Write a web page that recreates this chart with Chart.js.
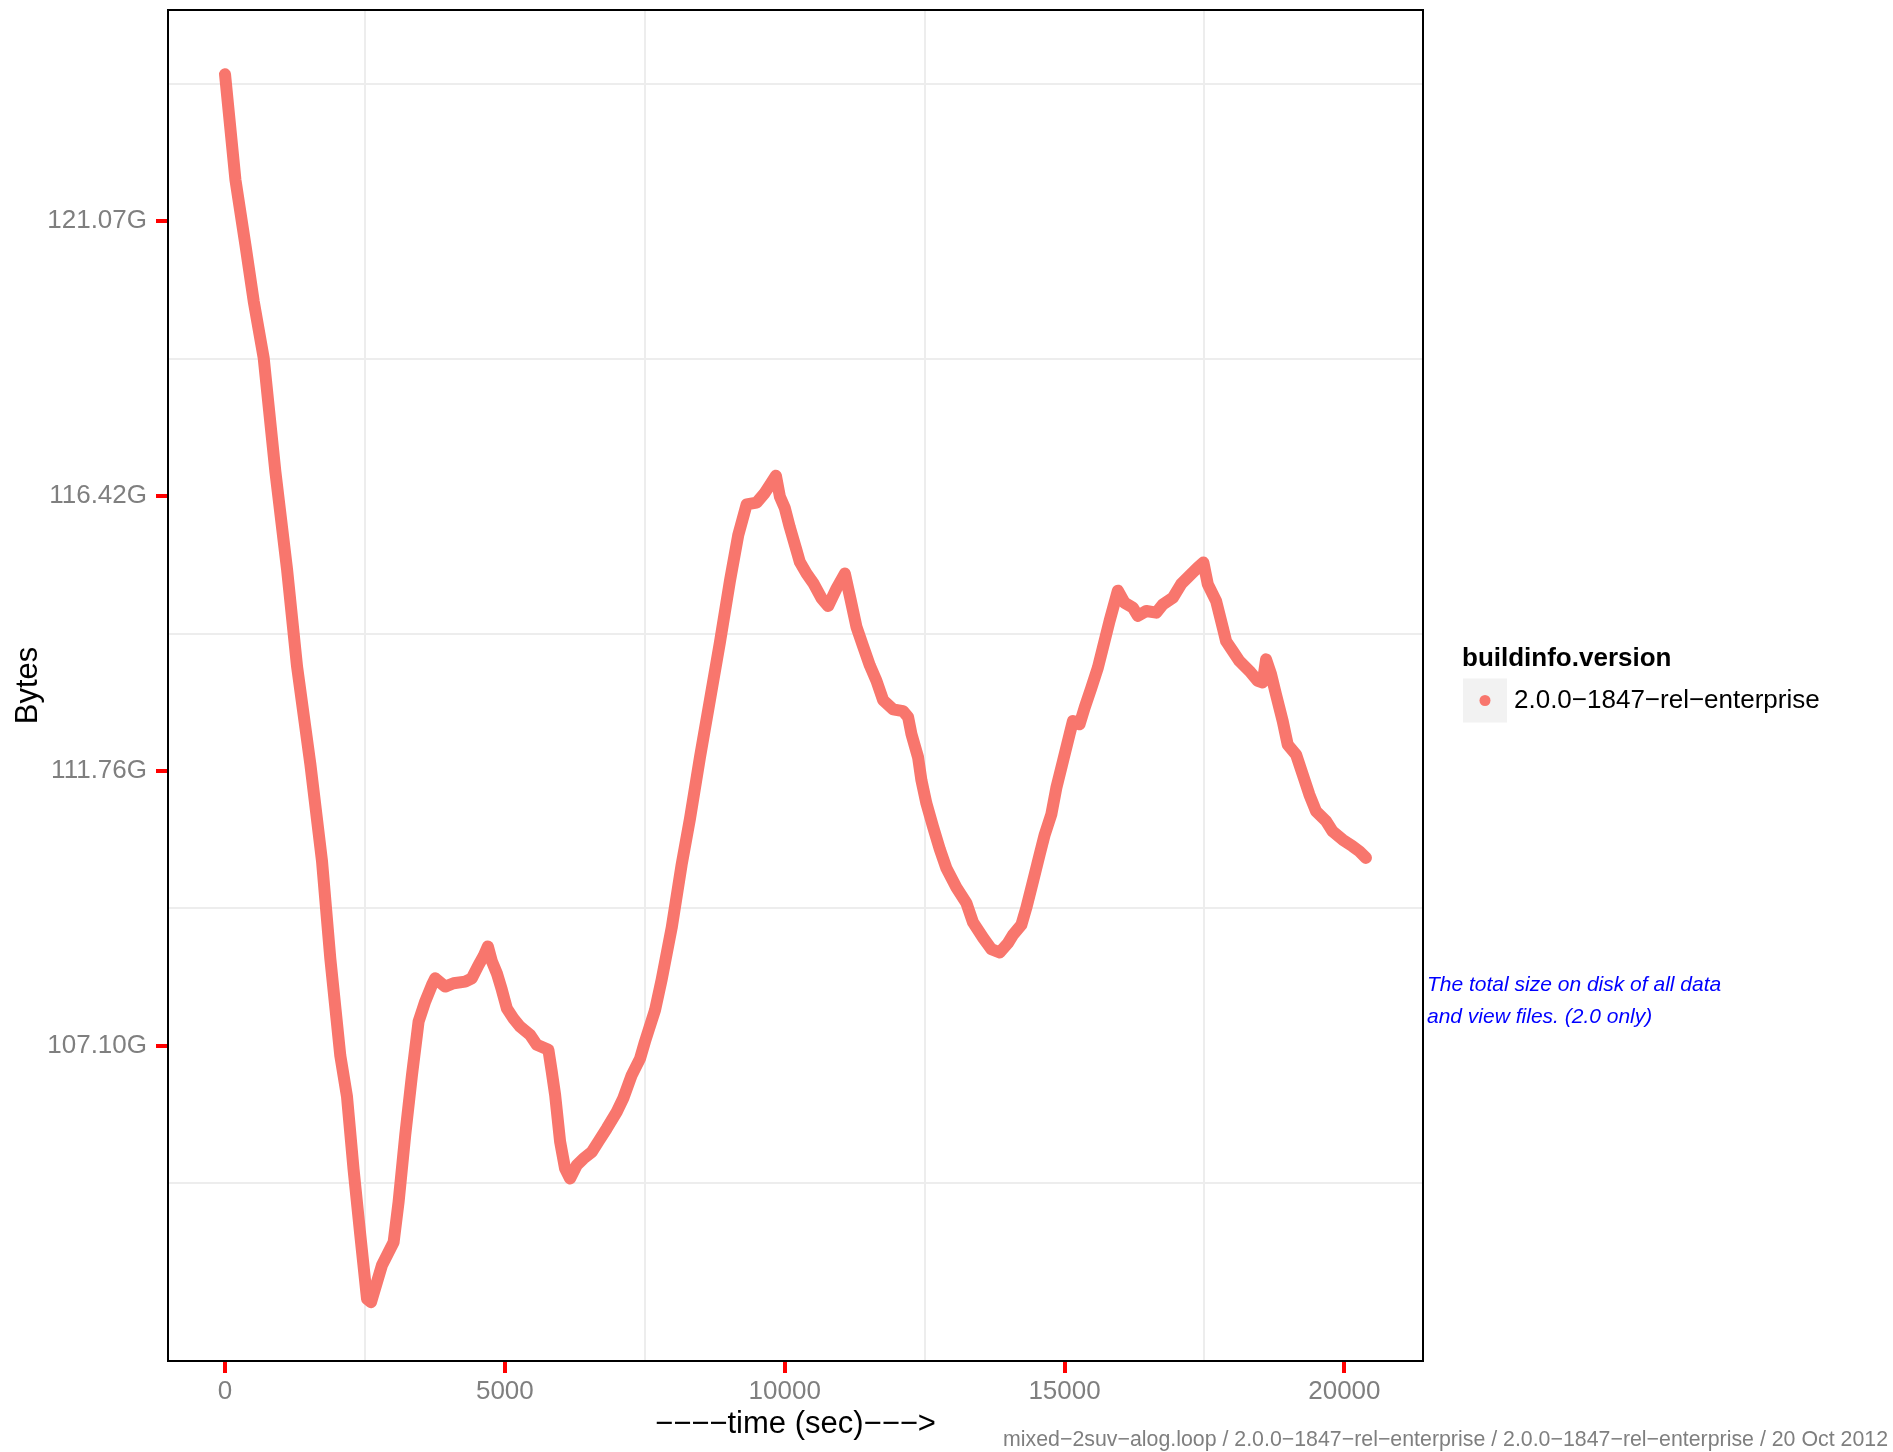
<!DOCTYPE html>
<html>
<head>
<meta charset="utf-8">
<script src="https://cdn.jsdelivr.net/npm/chart.js@4.4.1/dist/chart.umd.min.js"></script>
<style>
  html, body { margin: 0; padding: 0; background: #ffffff; }
  canvas { display: block; }
</style>
</head>
<body>
<canvas id="chart" width="1893" height="1452"></canvas>
<script>
// Elapsed time of each sample (seconds)
const timeSec = [0,186,364,513,691,900,1108,1287,1524,1733,
  1881,2060,2179,2297,2417,2537,2608,2804,3012,3101,
  3220,3340,3458,3577,3697,3756,3934,4083,4291,4410,
  4529,4618,4696,4768,4857,4946,5036,5153,5273,5451,
  5571,5778,5838,5898,5987,6076,6165,6284,6403,6553,
  6671,6821,6999,7117,7267,7415,7504,7683,7802,7981,
  8159,8307,8486,8664,8843,9022,9170,9320,9498,9646,
  9736,9843,9914,10003,10092,10212,10271,10390,10509,10659,
  10776,10927,11075,11164,11283,11401,11521,11640,11758,11937,
  12115,12205,12265,12383,12443,12532,12650,12770,12889,13068,
  13246,13364,13543,13693,13841,13989,14079,14228,14317,14436,
  14555,14645,14764,14853,14972,15091,15150,15269,15359,15478,
  15596,15685,15805,15953,16072,16221,16310,16460,16638,16756,
  16935,17084,17232,17381,17482,17559,17709,17827,17887,18006,
  18125,18303,18452,18541,18601,18690,18779,18898,18987,19137,
  19255,19375,19494,19672,19791,19969,20148,20267,20386];

// Total size on disk of data + view files, in units of 1e9 bytes
const diskGB = [132.67,130.75,129.57,128.54,127.51,125.44,123.67,121.90,120.13,118.36,
  116.59,114.82,114.08,112.75,111.56,110.40,110.34,111.01,111.43,112.16,
  113.38,114.47,115.44,115.81,116.11,116.23,116.08,116.14,116.17,116.23,
  116.47,116.63,116.81,116.54,116.32,116.02,115.68,115.50,115.35,115.20,
  115.02,114.93,114.53,114.11,113.26,112.77,112.59,112.83,112.95,113.07,
  113.26,113.50,113.80,114.05,114.47,114.77,115.08,115.65,116.21,117.15,
  118.30,119.13,120.25,121.29,122.34,123.46,124.29,124.85,124.88,125.06,
  125.20,125.37,124.99,124.78,124.43,124.01,123.80,123.59,123.42,123.14,
  123.00,123.32,123.59,123.18,122.62,122.27,121.92,121.64,121.29,121.12,
  121.09,120.98,120.67,120.25,119.83,119.41,118.99,118.58,118.23,117.88,
  117.60,117.25,116.97,116.76,116.70,116.87,117.02,117.20,117.51,117.99,
  118.48,118.84,119.21,119.69,120.18,120.67,120.91,120.85,121.15,121.51,
  121.88,122.24,122.73,123.28,123.06,122.97,122.82,122.91,122.88,123.03,
  123.15,123.40,123.55,123.70,123.79,123.40,123.09,122.61,122.36,122.18,
  122.00,121.82,121.64,121.61,122.03,121.76,121.39,120.91,120.48,120.30,
  119.94,119.57,119.27,119.09,118.90,118.75,118.63,118.54,118.42];

const seriesName = '2.0.0\u22121847\u2212rel\u2212enterprise';
const legendTitle = 'buildinfo.version';

// Axis breaks (major carry labels, minor only a light grid line)
const yTickValues = [115, 120, 125, 130];
const yTickLabels = ['107.10G', '111.76G', '116.42G', '121.07G'];
const yMinorValues = [112.5, 117.5, 122.5, 127.5, 132.5];
const xTickValues = [0, 5000, 10000, 15000, 20000];
const xTickLabels = ['0', '5000', '10000', '15000', '20000'];
const xMinorValues = [2500, 7500, 12500, 17500];

const noteLines = ['The total size on disk of all data', 'and view files. (2.0 only)'];
const footerText = 'mixed\u22122suv\u2212alog.loop / 2.0.0\u22121847\u2212rel\u2212enterprise / 2.0.0\u22121847\u2212rel\u2212enterprise / 20 Oct 2012';

const FONT = '"Liberation Sans", Arial, Helvetica, sans-serif';
const LINE_COLOR = '#F8766D';
const TICK_GREY = '#7f7f7f';
const MINOR_GRID = '#ededed';

Chart.defaults.font.family = FONT;

const points = timeSec.map((t, i) => ({ x: t, y: diskGB[i] }));

function isMajor(list, v) { return list.some(m => Math.abs(m - v) < 1e-6); }

function buildTicks(majors, minors) {
  return [...majors, ...minors].sort((a, b) => a - b).map(v => ({ value: v }));
}

// Panel frame, legend, side note and footer line
const decorations = {
  id: 'decorations',
  afterDatasetsDraw(chart) {
    const { ctx, chartArea: a } = chart;
    ctx.save();
    ctx.strokeStyle = '#000000';
    ctx.lineWidth = 2;
    ctx.strokeRect(a.left, a.top, a.right - a.left, a.bottom - a.top);
    ctx.restore();
  },
  afterDraw(chart) {
    const { ctx, chartArea: a } = chart;
    const midY = (a.top + a.bottom) / 2;
    ctx.save();

    // legend
    const lx = a.right + 39;
    ctx.fillStyle = '#000000';
    ctx.font = 'bold 26px ' + FONT;
    ctx.textAlign = 'left';
    ctx.textBaseline = 'middle';
    ctx.fillText(legendTitle, lx, midY - 27);

    ctx.fillStyle = '#f2f2f2';
    ctx.fillRect(lx + 1, midY - 7, 44, 44);
    ctx.fillStyle = LINE_COLOR;
    ctx.beginPath();
    ctx.arc(lx + 23, midY + 15, 5.5, 0, Math.PI * 2);
    ctx.fill();

    ctx.fillStyle = '#000000';
    ctx.font = '26px ' + FONT;
    ctx.fillText(chart.data.datasets[0].label, lx + 52, midY + 15);

    // side note
    ctx.fillStyle = '#0000ff';
    ctx.font = 'italic 21px ' + FONT;
    noteLines.forEach((line, i) => {
      ctx.fillText(line, a.right + 4, midY + 300 + i * 32);
    });

    // footer
    ctx.fillStyle = TICK_GREY;
    ctx.font = '21.5px ' + FONT;
    ctx.textAlign = 'right';
    ctx.fillText(footerText, chart.width - 5, chart.height - 12, 885);

    ctx.restore();
  }
};

new Chart(document.getElementById('chart'), {
  type: 'line',
  data: {
    datasets: [{
      label: seriesName,
      data: points,
      borderColor: LINE_COLOR,
      backgroundColor: LINE_COLOR,
      borderWidth: 12,
      borderJoinStyle: 'round',
      borderCapStyle: 'round',
      pointRadius: 0,
      tension: 0,
      fill: false
    }]
  },
  options: {
    responsive: false,
    devicePixelRatio: 1,
    animation: false,
    events: [],
    layout: { padding: { top: 10, right: 470, left: 0, bottom: 0 } },
    plugins: {
      legend: { display: false },
      tooltip: { enabled: false },
      title: { display: false }
    },
    scales: {
      x: {
        type: 'linear',
        min: -1019,
        max: 21405,
        afterBuildTicks: s => { s.ticks = buildTicks(xTickValues, xMinorValues); },
        afterFit: s => {
          s.height = 91;
          s.paddingLeft = 0; s.paddingRight = 0;
        },
        border: { display: false },
        grid: {
          drawOnChartArea: true,
          drawTicks: true,
          color: c => isMajor(xTickValues, c.tick.value) ? 'rgba(255,255,255,0)' : MINOR_GRID,
          lineWidth: 2,
          tickColor: c => isMajor(xTickValues, c.tick.value) ? '#ff0000' : 'rgba(0,0,0,0)',
          tickWidth: 4,
          tickLength: 12
        },
        ticks: {
          autoSkip: false,
          maxRotation: 0,
          padding: 3,
          color: TICK_GREY,
          font: { size: 26 },
          callback: v => {
            const i = xTickValues.findIndex(m => Math.abs(m - v) < 1e-6);
            return i >= 0 ? xTickLabels[i] : '';
          }
        },
        title: {
          display: true,
          text: '\u2212\u2212\u2212\u2212time (sec)\u2212\u2212\u2212>',
          color: '#000000',
          font: { size: 31 },
          padding: { top: 0, bottom: 9 }
        }
      },
      y: {
        type: 'linear',
        min: 109.27,
        max: 133.84,
        afterBuildTicks: s => { s.ticks = buildTicks(yTickValues, yMinorValues); },
        afterFit: s => {
          s.width = 168;
          s.paddingTop = 0; s.paddingBottom = 0;
        },
        border: { display: false },
        grid: {
          drawOnChartArea: true,
          drawTicks: true,
          color: c => isMajor(yTickValues, c.tick.value) ? 'rgba(255,255,255,0)' : MINOR_GRID,
          lineWidth: 2,
          tickColor: c => isMajor(yTickValues, c.tick.value) ? '#ff0000' : 'rgba(0,0,0,0)',
          tickWidth: 4,
          tickLength: 12
        },
        ticks: {
          autoSkip: false,
          padding: 9,
          color: TICK_GREY,
          font: { size: 26 },
          callback: v => {
            const i = yTickValues.findIndex(m => Math.abs(m - v) < 1e-6);
            return i >= 0 ? yTickLabels[i] : '';
          }
        },
        title: {
          display: true,
          text: 'Bytes',
          color: '#000000',
          font: { size: 31 },
          padding: { top: 10, bottom: 0 }
        }
      }
    }
  },
  plugins: [decorations]
});
</script>
</body>
</html>
